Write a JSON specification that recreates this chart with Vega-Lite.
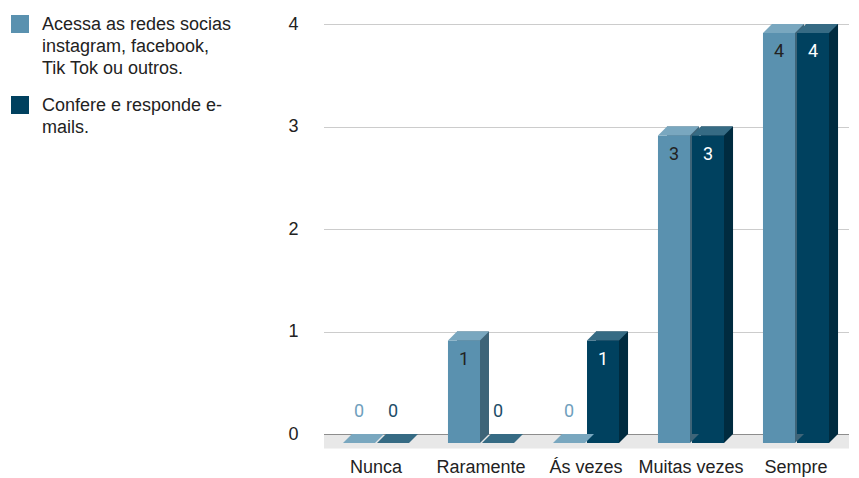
{
  "$schema": "https://vega.github.io/schema/vega-lite/v6.json",
  "width": 539,
  "height": 410,
  "autosize": {"type": "none"},
  "padding": {"left": 320, "top": 24, "right": 0, "bottom": 44},
  "background": "#ffffff",
  "config": {
    "view": {"stroke": null},
    "axis": {"labelFont": "Liberation Sans", "labelColor": "#222222", "labelFontSize": 18},
    "style": {"guide-label": {"lineHeight": 22, "dy": -8}}
  },
  "data": {
    "values": [
      {"cat": "Nunca", "series": "Acessa as redes socias instagram, facebook, Tik Tok ou outros.", "value": 0},
      {"cat": "Raramente", "series": "Acessa as redes socias instagram, facebook, Tik Tok ou outros.", "value": 1},
      {"cat": "Ás vezes", "series": "Acessa as redes socias instagram, facebook, Tik Tok ou outros.", "value": 0},
      {"cat": "Muitas vezes", "series": "Acessa as redes socias instagram, facebook, Tik Tok ou outros.", "value": 3},
      {"cat": "Sempre", "series": "Acessa as redes socias instagram, facebook, Tik Tok ou outros.", "value": 4},
      {"cat": "Nunca", "series": "Confere e responde e-mails.", "value": 0},
      {"cat": "Raramente", "series": "Confere e responde e-mails.", "value": 0},
      {"cat": "Ás vezes", "series": "Confere e responde e-mails.", "value": 1},
      {"cat": "Muitas vezes", "series": "Confere e responde e-mails.", "value": 3},
      {"cat": "Sempre", "series": "Confere e responde e-mails.", "value": 4}
    ]
  },
  "resolve": {"scale": {"xOffset": "independent"}},
  "encoding": {
    "x": {
      "field": "cat",
      "type": "nominal",
      "sort": ["Nunca", "Raramente", "Ás vezes", "Muitas vezes", "Sempre"],
      "scale": {"range": [3.5, 528.5], "paddingInner": 0.371, "paddingOuter": 0.1855},
      "axis": {
        "title": null,
        "labelAngle": 0,
        "ticks": false,
        "offset": 7,
        "domainColor": "#e8e8e8",
        "domainWidth": 14,
        "labelPadding": 25,
        "labelBaseline": "top"
      }
    },
    "y": {
      "field": "value",
      "type": "quantitative",
      "scale": {"domain": [0, 4], "nice": false},
      "axis": {
        "title": null,
        "values": [0, 1, 2, 3, 4],
        "ticks": false,
        "domain": false,
        "labelPadding": 22,
        "labelOffset": 8,
        "gridColor": {"condition": {"test": "datum.value === 0", "value": "#333333"}, "value": "#cccccc"},
        "gridWidth": 1
      }
    }
  },
  "layer": [
    {
      "mark": {"type": "bar"},
      "encoding": {
        "xOffset": {
          "field": "series",
          "type": "nominal",
          "sort": ["Acessa as redes socias instagram, facebook, Tik Tok ou outros.", "Confere e responde e-mails."],
          "scale": {"type": "band", "range": [9, 75.06], "paddingInner": 0.059, "paddingOuter": 0}
        },
        "fill": {
          "condition": {"test": "datum.series === 'Confere e responde e-mails.'", "value": "#002b3f"},
          "value": "#3e6478"
        }
      }
    },
    {
      "mark": {"type": "bar", "yOffset": 9, "y2Offset": 9},
      "encoding": {
        "xOffset": {
          "field": "series",
          "type": "nominal",
          "sort": ["Acessa as redes socias instagram, facebook, Tik Tok ou outros.", "Confere e responde e-mails."],
          "scale": {"type": "band", "range": [0, 66.06], "paddingInner": 0.059, "paddingOuter": 0}
        },
        "color": {
          "field": "series",
          "type": "nominal",
          "sort": ["Acessa as redes socias instagram, facebook, Tik Tok ou outros.", "Confere e responde e-mails."],
          "scale": {"range": ["#5a91af", "#00415f"]},
          "legend": {
            "title": null,
            "orient": "none",
            "legendX": -309,
            "legendY": -9,
            "direction": "vertical",
            "symbolType": "square",
            "symbolSize": 324,
            "symbolStrokeWidth": 0,
            "labelFont": "Liberation Sans",
            "labelFontSize": 18,
            "labelColor": "#222222",
            "labelOffset": 13,
            "labelLimit": 400,
            "labelBaseline": "top",
            "rowPadding": 18,
            "labelExpr": "datum.label === 'Confere e responde e-mails.' ? ['Confere e responde e-', 'mails.'] : ['Acessa as redes socias', 'instagram, facebook,', 'Tik Tok ou outros.']"
          }
        }
      }
    },
    {
      "transform": [{"filter": "datum.value > 0"}],
      "mark": {
        "type": "point",
        "filled": true,
        "opacity": 1,
        "strokeWidth": 0,
        "size": 2500,
        "shape": "M0.64,0.36L1,0L0.64,0Z"
      },
      "encoding": {
        "xOffset": {
          "field": "series",
          "type": "nominal",
          "sort": ["Acessa as redes socias instagram, facebook, Tik Tok ou outros.", "Confere e responde e-mails."],
          "scale": {"type": "band", "range": [0, 66.06], "paddingInner": 0.059, "paddingOuter": 0}
        },
        "y": {"datum": 0, "type": "quantitative"},
        "fill": {
          "condition": {"test": "datum.series === 'Confere e responde e-mails.'", "value": "#002b3f"},
          "value": "#3e6478"
        }
      }
    },
    {
      "mark": {
        "type": "point",
        "filled": true,
        "opacity": 1,
        "strokeWidth": 0,
        "size": 2500,
        "shape": "M-0.64,0.36L0.64,0.36L1,0L-0.28,0Z"
      },
      "encoding": {
        "xOffset": {
          "field": "series",
          "type": "nominal",
          "sort": ["Acessa as redes socias instagram, facebook, Tik Tok ou outros.", "Confere e responde e-mails."],
          "scale": {"type": "band", "range": [0, 66.06], "paddingInner": 0.059, "paddingOuter": 0}
        },
        "fill": {
          "condition": {"test": "datum.series === 'Confere e responde e-mails.'", "value": "#366b84"},
          "value": "#79a7bf"
        }
      }
    },
    {
      "transform": [{"filter": "datum.value > 0"}],
      "mark": {"type": "text", "font": "Roboto", "fontSize": 18, "dy": 28, "baseline": "middle"},
      "encoding": {
        "xOffset": {
          "field": "series",
          "type": "nominal",
          "sort": ["Acessa as redes socias instagram, facebook, Tik Tok ou outros.", "Confere e responde e-mails."],
          "scale": {"type": "band", "range": [0, 66.06], "paddingInner": 0.059, "paddingOuter": 0}
        },
        "text": {"field": "value", "type": "quantitative"},
        "fill": {
          "condition": {"test": "datum.series === 'Confere e responde e-mails.'", "value": "#ffffff"},
          "value": "#222222"
        }
      }
    },
    {
      "transform": [{"filter": "datum.value === 0"}],
      "mark": {"type": "text", "font": "Roboto", "fontSize": 18, "dy": -22, "baseline": "middle"},
      "encoding": {
        "xOffset": {
          "field": "series",
          "type": "nominal",
          "sort": ["Acessa as redes socias instagram, facebook, Tik Tok ou outros.", "Confere e responde e-mails."],
          "scale": {"type": "band", "range": [0, 66.06], "paddingInner": 0.059, "paddingOuter": 0}
        },
        "text": {"field": "value", "type": "quantitative"},
        "fill": {
          "condition": {"test": "datum.series === 'Confere e responde e-mails.'", "value": "#1d4e68"},
          "value": "#6fa0bd"
        }
      }
    }
  ]
}
